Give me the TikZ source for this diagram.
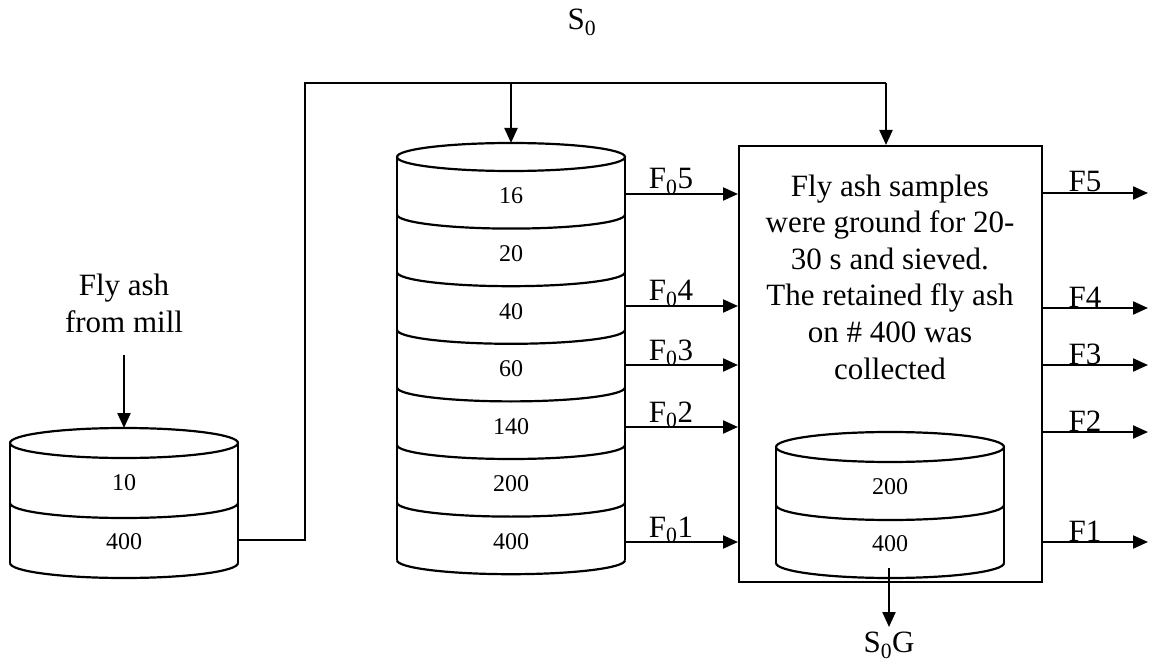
\documentclass[tikz,border=0pt]{standalone}
\usepackage{fontspec}
\setmainfont{Liberation Serif}
\usetikzlibrary{arrows.meta}
\newcommand\drawcyl[6]{%
  \draw[fill=white] (#1,-#2) ellipse[x radius=#3pt, y radius=#4pt];
  \draw (#1-#3,-#2) -- ++(0,-#6*#5);
  \draw (#1+#3,-#2) -- ++(0,-#6*#5);
  \foreach \k in {1,...,#6}{\draw (#1+#3,-#2-\k*#5) arc[start angle=0, end angle=-180, x radius=#3pt, y radius=#4pt];}
}
\begin{document}
\begin{tikzpicture}[x=1pt,y=1pt,line width=2.2pt,line join=miter,
  arr/.style={-{Triangle[length=15pt,width=13pt]}},
  big/.style={font=\fontsize{31}{36.6}\selectfont, inner sep=0pt},
  num/.style={font=\fontsize{24}{28}\selectfont, inner sep=0pt},
  thinline/.style={line width=1.2pt}]
\useasboundingbox (0,0) rectangle (1149,-663);

% left cylinder
\drawcyl{124}{443}{114}{15}{60}{2}
\node[num] (l10) at (124,-483) {10};
\node[num] (l400) at (124,-542) {400};
\node[big, align=center, anchor=north] (mill) at (124,-273) {Fly ash\\from mill};
\coordinate (millA) at (124,-355);
\coordinate (millB) at (124,-428);
\draw[arr] (millA) -- (millB);

% stack cylinder
\drawcyl{511}{157}{114}{14}{57.6}{7}
\foreach \t/\i in {16/0,20/1,40/2,60/3,140/4,200/5,400/6}{
  \node[num] (st\t) at (511,-157-\i*57.6-39) {\t};
}

% process box
\node[draw, minimum width=303pt, minimum height=436pt, anchor=north west, inner sep=0pt] (box) at (738,-145) {};
\node[big, align=center, anchor=north] (boxtext) at (890,-173.5)
  {Fly ash samples\\were ground for 20-\\30 s and sieved.\\The retained fly ash\\on \# 400 was\\collected};

% inner cylinder
\drawcyl{890}{447}{114}{15}{58}{2}
\node[num] (i200) at (890,-487) {200};
\node[num] (i400) at (890,-544) {400};

% feed connector
\coordinate (feedL) at (238,-540);
\coordinate (c1) at (305,-540);
\coordinate (c2) at (305,-83);
\coordinate (j1) at (511,-83);
\coordinate (j2) at (886,-83);
\coordinate (stacktop) at (511,-143);
\draw[thinline] (feedL) -- (c1) -- (c2) -- (j1);
\draw (j1) -- (j2);
\draw[arr] (j1) -- (stacktop);
\draw[arr] (j2) -- (j2 |- box.north);

% S0 label
\node[big] (s0) at (582,-22) {S\textsubscript{0}};

% F0 arrows
\foreach \n/\y in {5/194,4/306,3/365,2/427,1/542}{
  \coordinate (fa\n) at (625,-\y);
  \draw[arr] (fa\n) -- (fa\n -| box.west);
  \node[big, anchor=base] (fl\n) at (671,-\y+5) {F\textsubscript{0}\n};
}

% F arrows out
\foreach \n/\y in {5/193,4/308,3/365,2/432,1/542}{
  \coordinate (fb\n) at (box.east |- 0,-\y);
  \coordinate (fe\n) at (1148,-\y);
  \draw[arr] (fb\n) -- (fe\n);
  \node[big, anchor=base] (fr\n) at (1085,-\y+1) {F\n};
}

% S0G
\coordinate (sgA) at (889,-568);
\coordinate (sgB) at (889,-627);
\draw[arr] (sgA) -- (sgB);
\node[big] (s0g) at (889,-645) {S\textsubscript{0}G};
\end{tikzpicture}
\end{document}
